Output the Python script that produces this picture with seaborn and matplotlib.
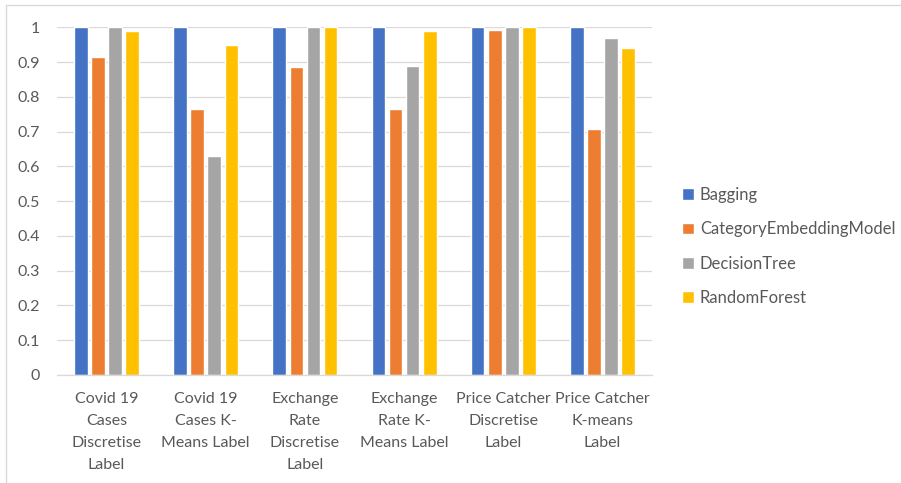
import matplotlib
matplotlib.use("Agg")
import matplotlib.pyplot as plt
import seaborn as sns
import pandas as pd
from matplotlib.lines import Line2D

categories = ["Covid 19\nCases\nDiscretise\nLabel", "Covid 19\nCases K-\nMeans Label",
              "Exchange\nRate\nDiscretise\nLabel", "Exchange\nRate K-\nMeans Label",
              "Price Catcher\nDiscretise\nLabel", "Price Catcher\nK-means\nLabel"]
models = ["Bagging", "CategoryEmbeddingModel", "DecisionTree", "RandomForest"]
bagging = [1.0, 1.0, 1.0, 1.0, 1.0, 1.0]
category_embedding = [0.914, 0.765, 0.885, 0.765, 0.993, 0.707]
decision_tree = [1.0, 0.631, 1.0, 0.89, 1.0, 0.97]
random_forest = [0.989, 0.95, 1.0, 0.99, 1.0, 0.94]
yticks = [0, 0.1, 0.2, 0.3, 0.4, 0.5, 0.6, 0.7, 0.8, 0.9, 1]
ytick_labels = ["0", "0.1", "0.2", "0.3", "0.4", "0.5", "0.6", "0.7", "0.8", "0.9", "1"]
colors = ["#4472C4", "#ED7D31", "#A5A5A5", "#FFC000"]

rows = []
for m, vals in zip(models, [bagging, category_embedding, decision_tree, random_forest]):
    for c, v in zip(categories, vals):
        rows.append({"Category": c, "Model": m, "Value": v})
df = pd.DataFrame(rows)

sns.set_style("white")
plt.rcParams["font.family"] = ["Lato", "DejaVu Sans"]
text_color = "#595959"

fig = plt.figure(figsize=(9.01, 4.83), dpi=100)
ax = fig.add_axes([57/901, 1-375/483, (652-57)/901, (375-27.3)/483])
sns.barplot(data=df, x="Category", y="Value", hue="Model", hue_order=models,
            order=categories, palette=colors, width=0.69, gap=0.2, ax=ax,
            saturation=1, legend=True)

ax.set_ylim(0, 1)
ax.set_yticks(yticks)
ax.set_yticklabels(ytick_labels)
ax.set_xlim(-0.5, len(categories) - 0.5)
ax.set_xlabel("")
ax.set_ylabel("")
for s in ["top", "right", "left"]:
    ax.spines[s].set_visible(False)
ax.spines["bottom"].set_color("#D9D9D9")
ax.spines["bottom"].set_linewidth(0.9)
ax.grid(axis="y", color="#D9D9D9", linewidth=0.9)
ax.set_axisbelow(True)
ax.tick_params(axis="both", length=0, colors=text_color, labelsize=11.5)
ax.tick_params(axis="y", pad=12)
ax.tick_params(axis="x", pad=12)
for lab in ax.get_xticklabels():
    lab.set_linespacing(1.75)
    lab.set_verticalalignment("top")

handles, labels = ax.get_legend_handles_labels()
ax.legend_.remove()
leg = fig.legend(handles, labels, loc="center left", bbox_to_anchor=(667/901, 1-246.5/483),
                 frameon=False, fontsize=12, handlelength=0.72, handleheight=0.72,
                 handletextpad=0.35, labelspacing=1.1, labelcolor=text_color)

fig.add_artist(Line2D([6/901, 6/901], [0, 1-5/483], transform=fig.transFigure,
                      color="#D9D9D9", linewidth=1))
fig.add_artist(Line2D([6/901, 1], [1-5/483, 1-5/483], transform=fig.transFigure,
                      color="#D9D9D9", linewidth=1))

fig.savefig("out.png", dpi=100)
